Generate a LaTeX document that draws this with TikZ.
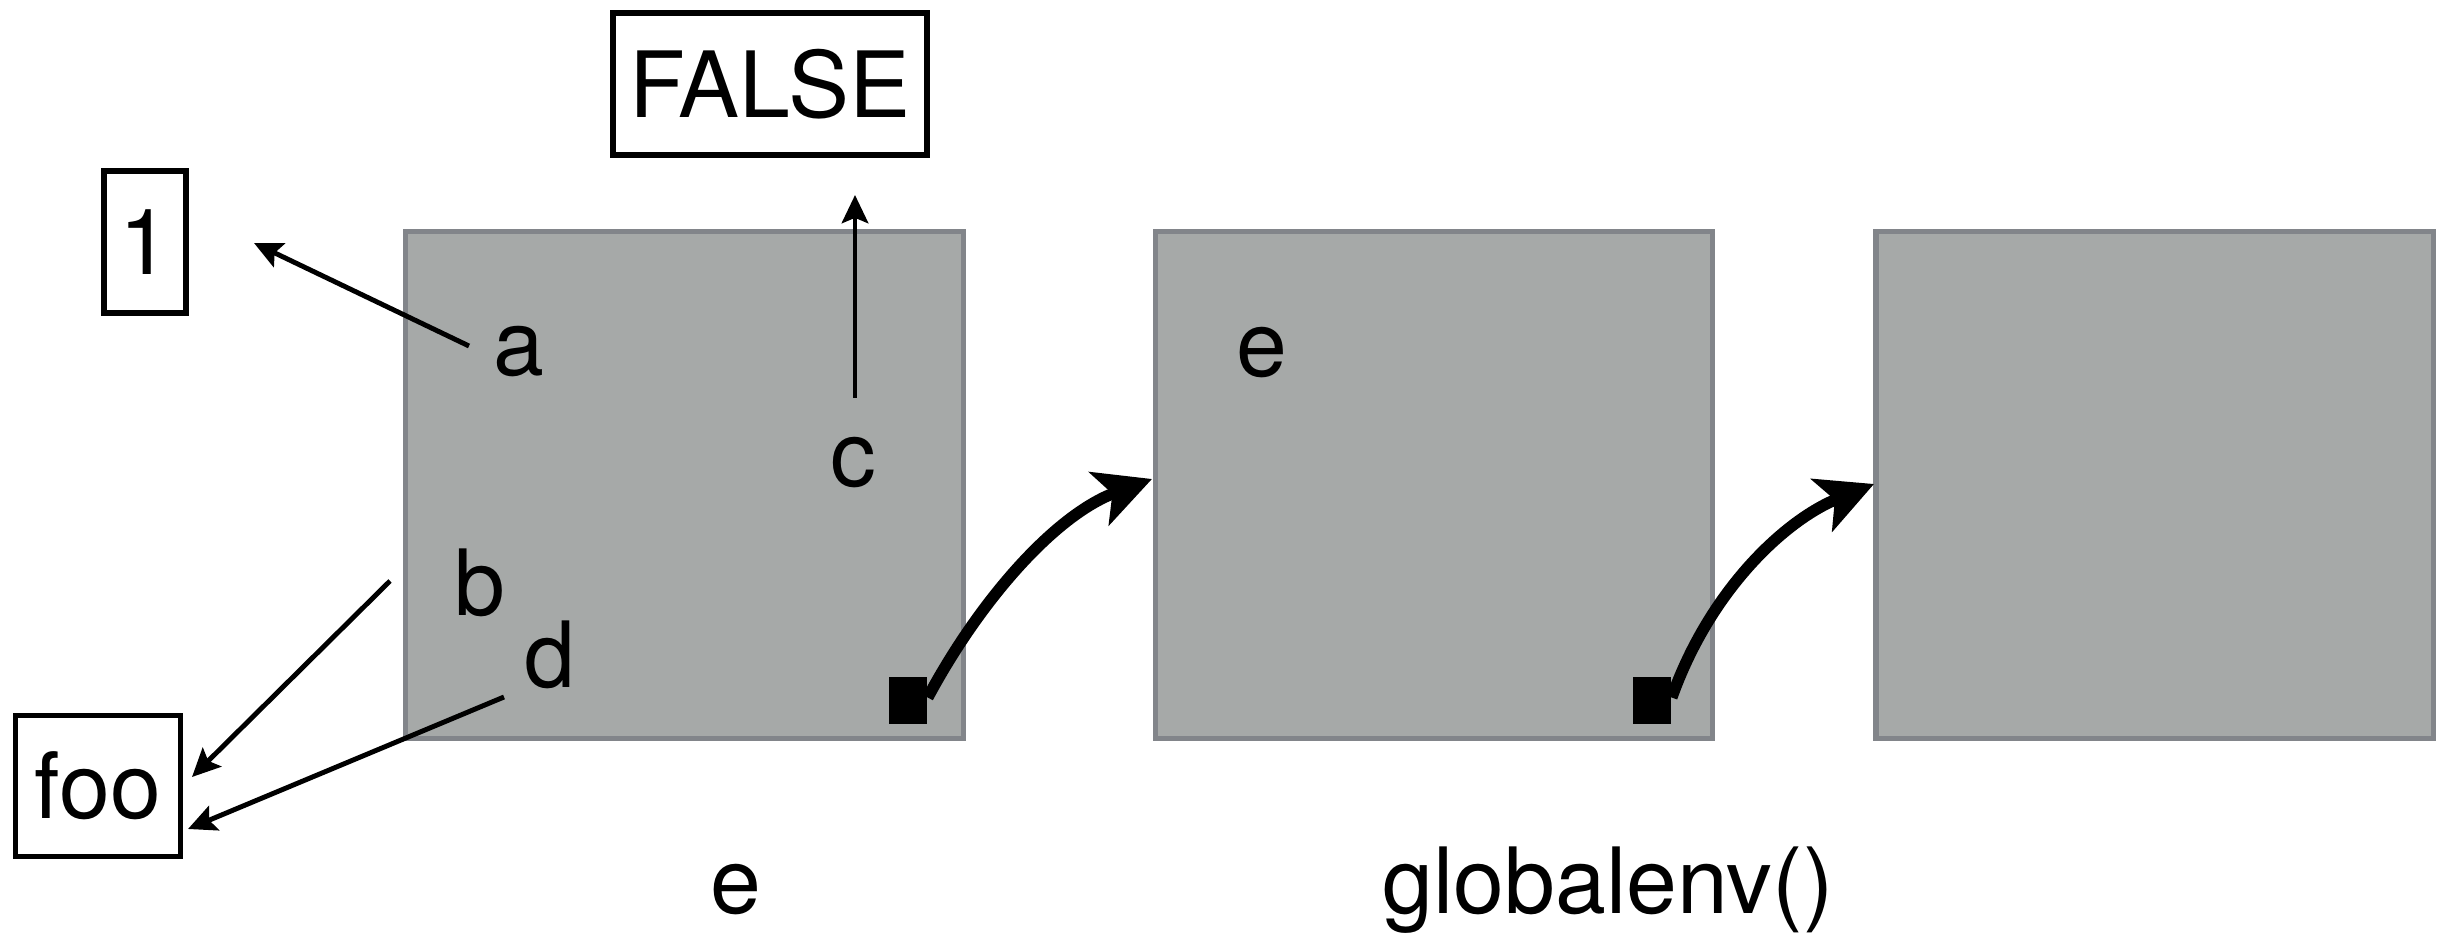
\documentclass[tikz,border=0pt]{standalone}
\usepackage{fontspec}
\setmainfont{TeX Gyre Heros}
\usetikzlibrary{arrows.meta,calc}
\definecolor{framefill}{HTML}{A6A9A8}
\definecolor{frameedge}{HTML}{82858A}
\begin{document}
\begin{tikzpicture}[x=0.01cm,y=-0.01cm,
  lbl/.style={anchor=base, inner sep=0pt, font=\fontsize{26}{30}\selectfont},
  envframe/.style={draw=frameedge, fill=framefill, line width=1.5pt, inner sep=0pt,
    minimum width=5.57cm, minimum height=5.07cm},
  valbox/.style={draw=black, line width=1.5pt, inner sep=0pt, font=\fontsize{26}{30}\selectfont},
  ptrsq/.style={fill=black, inner sep=0pt, minimum width=0.38cm, minimum height=0.47cm},
  small/.style={line width=1.4pt, -{Stealth[length=8pt, width=7.5pt, inset=1.5pt]}},
  bigarrow/.style={line width=3.3pt, -{Stealth[length=16pt, width=16pt, inset=4pt]}}]
\useasboundingbox (0,0) rectangle (2446,934);

% environment frames
\node[envframe] (frame1) at (684.5,485) {};
\node[envframe] (frame2) at (1434,485) {};
\node[envframe] (frame3) at (2154.5,485) {};

% value boxes
\node[valbox, minimum width=0.82cm, minimum height=1.42cm] (one) at (145,242) {1};
\node[valbox, minimum width=3.14cm, minimum height=1.42cm] (false) at (770,84) {FALSE};
\node[valbox, minimum width=1.65cm, minimum height=1.41cm] (foo) at (98,786) {foo};

% binding labels
\node[lbl] (a) at (519,376) {a};
\node[lbl] (c) at (853,487) {c};
\node[lbl] (b) at (480,616) {b};
\node[lbl] (d) at (550,687) {d};
\node[lbl] (e2) at (1262,377) {e};

% frame names
\node[lbl] (ename) at (736,913) {e};
\node[lbl] (gname) at (1608,913) {globalenv()};

% enclosing pointers
\node[ptrsq] (ptr1) at (908,700.5) {};
\node[ptrsq] (ptr2) at (1652,700.5) {};

% arrow end points
\coordinate (aS) at (469,346);
\coordinate (aT) at (254,243);
\coordinate (cS) at (855,398);
\coordinate (cT) at (855,195);
\coordinate (bS) at (390,581);
\coordinate (bT) at (192,777);
\coordinate (dS) at (504,697);
\coordinate (dT) at (188,829);
\coordinate (t1) at (1152,479);
\coordinate (t2) at (1874,484);

\draw[small] (aS) -- (aT);
\draw[small] (cS) -- (cT);
\draw[small] (bS) -- (bT);
\draw[small] (dS) -- (dT);

\draw[bigarrow] ([yshift=0.03cm]ptr1.east) .. controls (980,600) and (1055,515) .. (t1);
\draw[bigarrow] ([yshift=0.03cm]ptr2.east) .. controls (1710,590) and (1785,520) .. (t2);
\end{tikzpicture}
\end{document}
